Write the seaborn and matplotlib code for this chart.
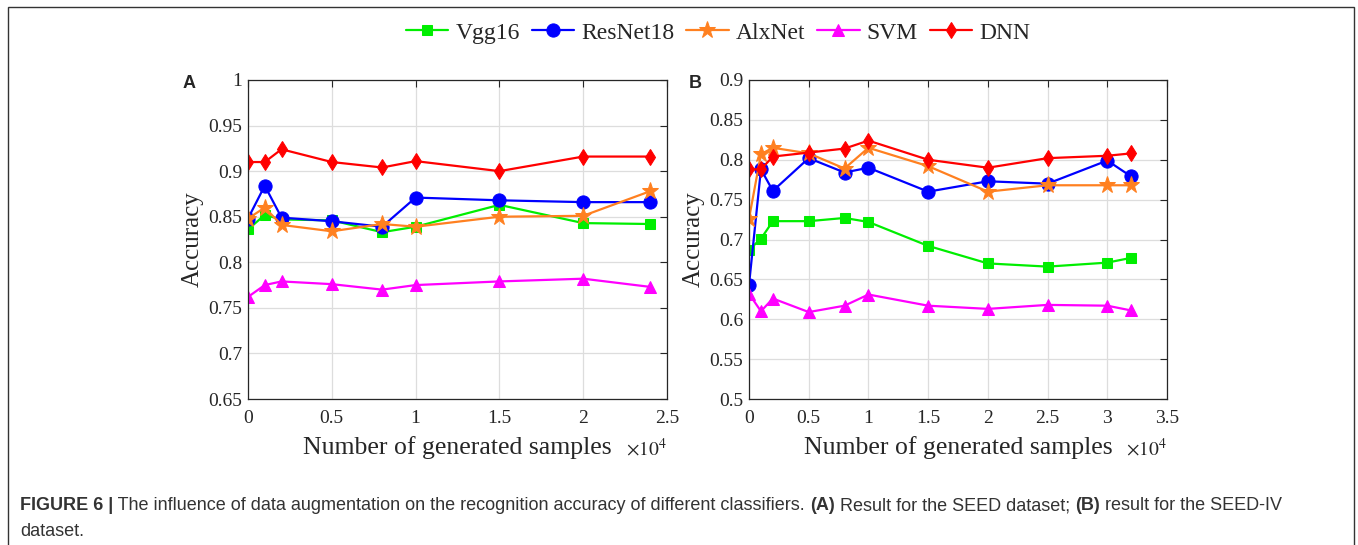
import numpy as np
import pandas as pd
import matplotlib
matplotlib.use("Agg")
import matplotlib.pyplot as plt
import seaborn as sns
from matplotlib.patches import Rectangle
from matplotlib.ticker import FormatStrFormatter

# models and styles
models = ['Vgg16', 'ResNet18', 'AlxNet', 'SVM', 'DNN']
colors = ['#00ee00', '#0000ff', '#ff8020', '#ff00ff', '#ff0000']
markers = ['s', 'o', '*', '^', 'd']
msizes = [7, 9.5, 12.5, 9, 8.5]

# panel A: SEED (x in units of 10^4 samples)
x_a = [0, 0.1, 0.2, 0.5, 0.8, 1.0, 1.5, 2.0, 2.4]
vgg_a = [0.836, 0.852, 0.847, 0.846, 0.833, 0.839, 0.863, 0.843, 0.842]
resnet_a = [0.848, 0.884, 0.849, 0.845, 0.839, 0.871, 0.868, 0.866, 0.866]
alx_a = [0.848, 0.860, 0.841, 0.834, 0.842, 0.839, 0.850, 0.851, 0.878]
svm_a = [0.762, 0.775, 0.779, 0.776, 0.770, 0.775, 0.779, 0.782, 0.773]
dnn_a = [0.910, 0.910, 0.924, 0.910, 0.904, 0.911, 0.900, 0.916, 0.916]

# panel B: SEED-IV
x_b = [0, 0.1, 0.2, 0.5, 0.8, 1.0, 1.5, 2.0, 2.5, 3.0, 3.2]
vgg_b = [0.687, 0.701, 0.723, 0.723, 0.727, 0.722, 0.692, 0.670, 0.666, 0.671, 0.677]
resnet_b = [0.643, 0.788, 0.761, 0.802, 0.784, 0.790, 0.760, 0.773, 0.770, 0.799, 0.779]
alx_b = [0.726, 0.807, 0.815, 0.808, 0.789, 0.815, 0.792, 0.760, 0.768, 0.768, 0.768]
svm_b = [0.632, 0.610, 0.626, 0.609, 0.617, 0.631, 0.617, 0.613, 0.618, 0.617, 0.611]
dnn_b = [0.788, 0.788, 0.804, 0.809, 0.814, 0.824, 0.800, 0.790, 0.802, 0.805, 0.808]

sns.set_theme(style="white")
plt.rcParams['font.family'] = ['Liberation Serif', 'DejaVu Serif']
plt.rcParams['mathtext.fontset'] = 'stix'

W, H = 1358, 545
fig = plt.figure(figsize=(W / 100, H / 100), dpi=100)
ax_a = fig.add_axes([248 / W, 146 / H, 419 / W, 319 / H])
ax_b = fig.add_axes([749 / W, 146 / H, 418 / W, 319 / H])


def draw(ax, x, series):
    for name, y, c, m, ms in zip(models, series, colors, markers, msizes):
        sns.lineplot(x=x, y=y, ax=ax, color=c, marker=m, markersize=ms,
                     markeredgecolor=c, linewidth=1.6, label=name)


def style(ax, xmax, ymin, ymax):
    ax.set_xlim(0, xmax)
    ax.set_ylim(ymin, ymax)
    ax.set_xticks(np.arange(0, xmax + 0.01, 0.5))
    ax.set_yticks(np.arange(ymin, ymax + 0.001, 0.05))
    ax.xaxis.set_major_formatter(FormatStrFormatter('%g'))
    ax.yaxis.set_major_formatter(FormatStrFormatter('%g'))
    ax.grid(True, color='#dddddd', linewidth=0.9)
    ax.tick_params(direction='in', top=True, right=True, length=5, width=0.8,
                   labelsize=14, colors='#262626', pad=4)
    ax.tick_params(axis='x', pad=8)
    for s in ax.spines.values():
        s.set_color('#262626')
        s.set_linewidth(0.9)
    ax.set_xlabel('Number of generated samples', fontsize=18.5, color='#262626')
    ax.set_ylabel('Accuracy', fontsize=18, color='#262626')
    ax.xaxis.set_label_coords(0.5, -0.115)
    ax.yaxis.set_label_coords(-0.105, 0.5)
    ax.text(1.0, -0.155, r'$\times10^4$', transform=ax.transAxes, ha='right',
            va='center', fontsize=14, color='#262626')


draw(ax_a, x_a, [vgg_a, resnet_a, alx_a, svm_a, dnn_a])
draw(ax_b, x_b, [vgg_b, resnet_b, alx_b, svm_b, dnn_b])
style(ax_a, 2.5, 0.65, 1.0)
style(ax_b, 3.5, 0.5, 0.9)

handles, labels = ax_a.get_legend_handles_labels()
ax_a.get_legend().remove()
ax_b.get_legend().remove()
fig.legend(handles, labels, loc='center', bbox_to_anchor=(718 / W, 1 - 33 / H),
           ncol=5, frameon=False, fontsize=17, handlelength=1.8,
           columnspacing=0.5, handletextpad=0.3)

# panel letters
for lx, letter in [(189, 'A'), (695, 'B')]:
    fig.text(lx / W, 1 - 83 / H, letter, ha='center', va='center',
             fontsize=13, fontweight='bold', family=['Liberation Sans', 'DejaVu Sans'])

# outer frame
fig.patches.append(Rectangle((8 / W, -0.02), (1354 - 8) / W, (545 - 7) / H + 0.02,
                             transform=fig.transFigure, fill=False,
                             edgecolor='#333333', linewidth=1.0, clip_on=False))

# caption with bold runs
renderer = fig.canvas.get_renderer()
runs = [('FIGURE 6 |', 'bold'),
        (' The influence of data augmentation on the recognition accuracy of different classifiers. ', 'normal'),
        ('(A)', 'bold'), (' Result for the SEED dataset; ', 'normal'),
        ('(B)', 'bold'), (' result for the SEED-IV', 'normal')]
xpos = 20 / W
for txt, wt in runs:
    t = fig.text(xpos, 1 - 506 / H, txt, ha='left', va='center', fontsize=13,
                 fontweight=wt, color='#333333',
                 family=['Liberation Sans', 'DejaVu Sans'])
    bb = t.get_window_extent(renderer=renderer)
    xpos += bb.width / W
fig.text(20 / W, 1 - 532 / H, 'dataset.', ha='left', va='center', fontsize=13,
         color='#333333', family=['Liberation Sans', 'DejaVu Sans'])

fig.savefig('out.png', dpi=100)
